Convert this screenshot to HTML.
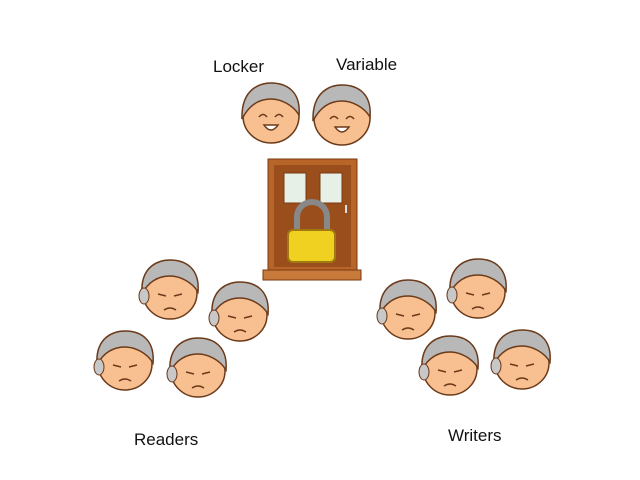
<!DOCTYPE html>
<html><head><style>
body{margin:0;background:#fff;width:640px;height:480px;overflow:hidden}
svg{display:block}
text{font-family:"Liberation Sans",sans-serif;font-size:17px;fill:#111}
</style></head><body>
<svg width="640" height="480" viewBox="0 0 640 480">
<defs>
<g id="sad">
<ellipse cx="0" cy="3" rx="27" ry="26" fill="#f8c090" stroke="#6b3a1a" stroke-width="1.5"/>
<path d="M-28,4 C-30,-25 -10,-30 0,-30 C15,-30 30,-22 28,2 C22,-8 10,-14 0,-14 C-12,-14 -22,-8 -28,4Z" fill="#b8b8b8" stroke="#6b3a1a" stroke-width="1.5"/>
<ellipse cx="-26" cy="6" rx="5" ry="8" fill="#c8c8c8" stroke="#6b3a1a"/>
<path d="M-12,4 l8,2 M4,6 l8,-2" stroke="#6b3a1a" stroke-width="1.5" fill="none"/>
<path d="M-6,20 q6,-4 12,0" stroke="#6b3a1a" stroke-width="1.5" fill="none"/>
</g>
<g id="happy">
<ellipse cx="0" cy="3" rx="28" ry="27" fill="#f8c090" stroke="#6b3a1a" stroke-width="1.5"/>
<path d="M-29,6 C-30,-25 -10,-30 0,-30 C15,-30 30,-22 28,2 C22,-8 10,-14 0,-14 C-12,-14 -22,-8 -29,6Z" fill="#b8b8b8" stroke="#6b3a1a" stroke-width="1.5"/>
<path d="M-12,4 q4,-5 8,0 M4,4 q4,-5 8,0" stroke="#6b3a1a" stroke-width="1.5" fill="none"/>
<path d="M-7,12 q7,10 14,0 z" fill="#fff" stroke="#6b3a1a" stroke-width="1.5"/>
</g>
</defs>
<text x="213" y="72">Locker</text>
<text x="336" y="70">Variable</text>
<text x="134" y="445">Readers</text>
<text x="448" y="441">Writers</text>
<use href="#happy" x="271" y="113"/>
<use href="#happy" x="342" y="115"/>
<use href="#sad" x="170" y="290"/>
<use href="#sad" x="240" y="312"/>
<use href="#sad" x="125" y="361"/>
<use href="#sad" x="198" y="368"/>
<use href="#sad" x="408" y="310"/>
<use href="#sad" x="478" y="289"/>
<use href="#sad" x="450" y="366"/>
<use href="#sad" x="522" y="360"/>
<!-- door -->
<rect x="268" y="159" width="89" height="112" fill="#b8652a" stroke="#7a3a12"/>
<rect x="274" y="165" width="77" height="102" fill="#9a4e1c"/>
<rect x="284" y="173" width="22" height="30" fill="#e6f0e6" stroke="#7a3a12"/>
<rect x="320" y="173" width="22" height="30" fill="#e6f0e6" stroke="#7a3a12"/>
<rect x="345" y="205" width="2" height="8" fill="#ddd"/>
<rect x="263" y="270" width="98" height="10" fill="#c87a3a" stroke="#7a3a12"/>
<path d="M297,235 v-18 a15,15 0 0 1 30,0 v18" fill="none" stroke="#888" stroke-width="6"/>
<rect x="288" y="230" width="47" height="32" rx="5" fill="#f0d020" stroke="#a07a10" stroke-width="2"/>
</svg>
</body></html>
